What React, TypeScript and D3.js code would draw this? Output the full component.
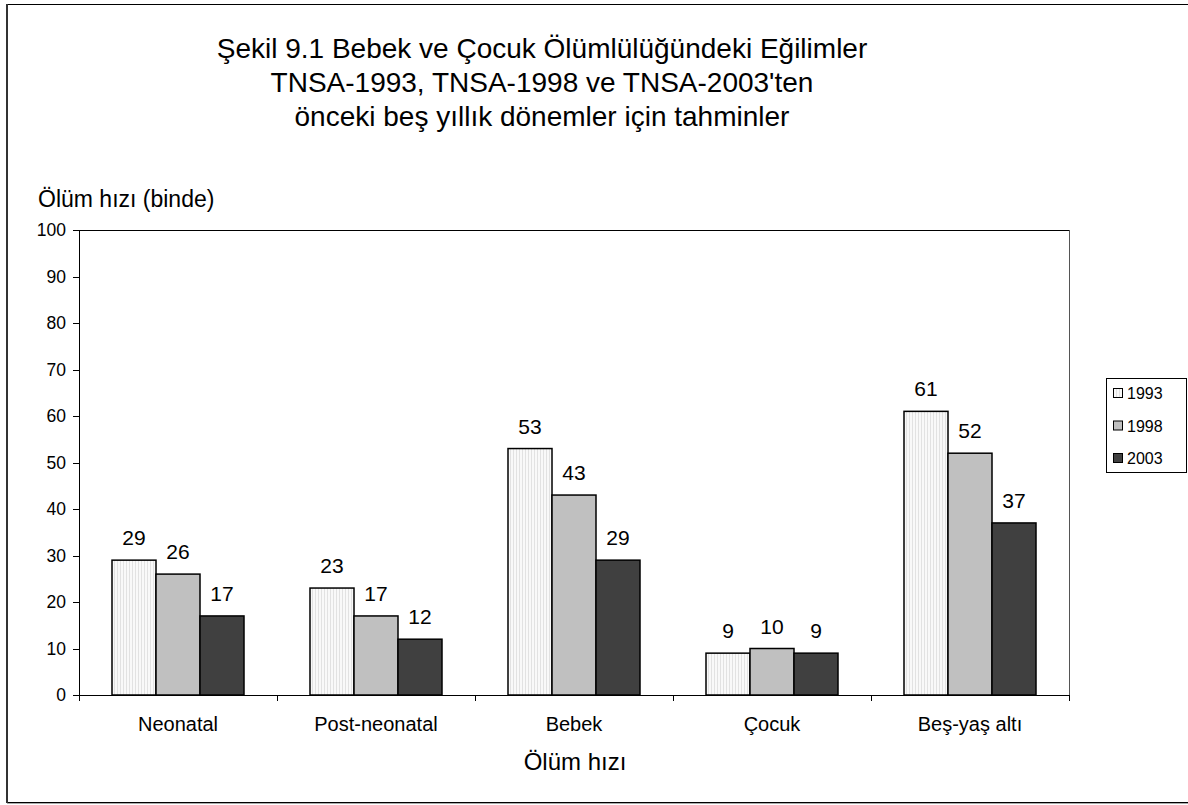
import React from "react";
import * as d3 from "d3";

const categories = ["Neonatal", "Post-neonatal", "Bebek", "Çocuk", "Beş-yaş altı"];
const seriesNames = ["1993", "1998", "2003"];
const values1993 = [29, 23, 53, 9, 61];
const values1998 = [26, 17, 43, 10, 52];
const values2003 = [17, 12, 29, 9, 37];
const yTicks = [0, 10, 20, 30, 40, 50, 60, 70, 80, 90, 100];
const titleLines = [
  "Şekil 9.1 Bebek ve Çocuk Ölümlülüğündeki Eğilimler",
  "TNSA-1993, TNSA-1998 ve TNSA-2003'ten",
  "önceki beş yıllık dönemler için tahminler",
];

const fills = ["url(#stripes)", "#c0c0c0", "#404040"];
const FONT = "Liberation Sans, Arial, sans-serif";

export default function App() {
  const W = 1188, H = 805;
  const left = 79, right = 1069, top = 230, bottom = 695;
  const x = d3.scaleBand<string>().domain(categories).range([left, right]).paddingInner(0).paddingOuter(0);
  const inner = d3.scaleBand<string>().domain(seriesNames).range([0, x.bandwidth()]).paddingInner(0).paddingOuter(0.75);
  const y = d3.scaleLinear().domain([0, 100]).range([bottom, top]);
  const series = [values1993, values1998, values2003];

  return (
    <svg width={W} height={H} style={{ position: "absolute", left: 0, top: 0 }} fontFamily={FONT}>
      <defs>
        <pattern id="stripes" width="3" height="4" patternUnits="userSpaceOnUse">
          <rect width="3" height="4" fill="#f9f9f9" />
          <line x1="0.5" y1="0" x2="0.5" y2="4" stroke="#e2e2e2" strokeWidth="1" />
        </pattern>
      </defs>
      <rect x={0} y={0} width={W} height={H} fill="#fff" />
      {/* outer frame */}
      <rect x={7.5} y={4.5} width={1190} height={798} fill="none" stroke="#000" strokeWidth={1} />
      <line x1={7} y1={4} x2={7} y2={803} stroke="#333" strokeWidth={2} />
      <line x1={7} y1={803.5} x2={1188} y2={803.5} stroke="#aaa" strokeWidth={1} />

      {titleLines.map((t, i) => (
        <text key={i} x={542} y={58 + i * 34} textAnchor="middle" fontSize={28} fill="#000">{t}</text>
      ))}
      <text x={38} y={207} fontSize={23} fill="#000">Ölüm hızı (binde)</text>

      {/* plot area border */}
      <line x1={left} y1={top + 0.5} x2={right} y2={top + 0.5} stroke="#000" />
      <line x1={right + 0.5} y1={top} x2={right + 0.5} y2={bottom} stroke="#555" />

      {/* y axis */}
      <line x1={left + 0.5} y1={top} x2={left + 0.5} y2={bottom} stroke="#000" />
      {yTicks.map((t) => (
        <g key={t}>
          <line x1={left - 6} x2={left} y1={Math.round(y(t)) + 0.5} y2={Math.round(y(t)) + 0.5} stroke="#000" />
          <text x={left - 13} y={y(t) + 6} textAnchor="end" fontSize={17.5} fill="#000">{t}</text>
        </g>
      ))}

      {/* bars */}
      {categories.map((c, ci) => (
        <g key={c}>
          {series.map((vals, si) => {
            const bx = (x(c) as number) + (inner(seriesNames[si]) as number);
            const bw = inner.bandwidth();
            const v = vals[ci];
            return (
              <g key={si}>
                <rect x={bx} y={y(v)} width={bw} height={bottom - y(v)} fill={fills[si]} stroke="#000" strokeWidth={1.5} />
                <text x={bx + bw / 2} y={y(v) - 15} textAnchor="middle" fontSize={21} fill="#000">{v}</text>
              </g>
            );
          })}
          <text x={(x(c) as number) + x.bandwidth() / 2} y={731} textAnchor="middle" fontSize={20} fill="#000">{c}</text>
        </g>
      ))}

      {/* x axis */}
      <line x1={left} y1={bottom + 0.5} x2={right + 1} y2={bottom + 0.5} stroke="#000" />
      {categories.concat(["__end"]).map((c, i) => {
        const xx = i < categories.length ? (x(c) as number) : right;
        return <line key={i} x1={Math.round(xx) + 0.5} x2={Math.round(xx) + 0.5} y1={bottom} y2={bottom + 6} stroke="#000" />;
      })}
      <text x={575} y={770} textAnchor="middle" fontSize={24} fill="#000">Ölüm hızı</text>

      {/* legend */}
      <rect x={1106.5} y={378.5} width={80} height={94} fill="#fff" stroke="#000" />
      {seriesNames.map((s, i) => (
        <g key={s}>
          <rect x={1113.5} y={388.5 + i * 32.5} width={9} height={9} fill={fills[i]} stroke="#000" />
          <text x={1127} y={399 + i * 32.5} fontSize={16} fill="#000">{s}</text>
        </g>
      ))}
    </svg>
  );
}
